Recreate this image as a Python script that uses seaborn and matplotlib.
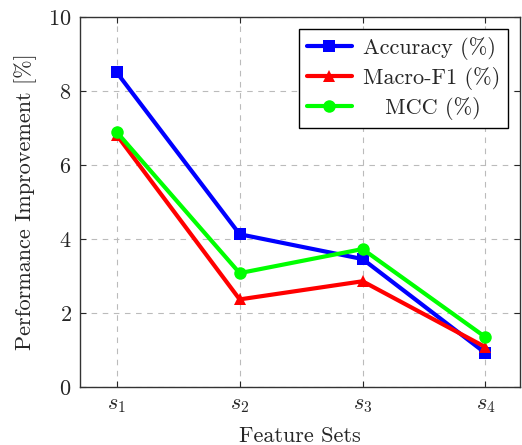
import numpy as np
import pandas as pd
import matplotlib
matplotlib.use("Agg")
import matplotlib.pyplot as plt
import seaborn as sns

feature_sets = ["$s_1$", "$s_2$", "$s_3$", "$s_4$"]
accuracy = [8.5, 4.13, 3.46, 0.92]
macro_f1 = [6.81, 2.37, 2.86, 1.08]
mcc = [6.89, 3.08, 3.73, 1.35]

sns.set_style("ticks")
plt.rcParams["font.family"] = ["cmr10", "DejaVu Serif"]
plt.rcParams["mathtext.fontset"] = "cm"
plt.rcParams["axes.unicode_minus"] = False
plt.rcParams["axes.formatter.use_mathtext"] = True

x = np.arange(1, len(feature_sets) + 1)
series = [
    ("Accuracy (%)", accuracy, "#0000ff", "s"),
    ("Macro-F1 (%)", macro_f1, "#ff0000", "^"),
    ("   MCC (%)", mcc, "#00ff00", "o"),
]

fig = plt.figure(figsize=(5.22, 4.45), dpi=100)
ax = fig.add_axes([0.153, 0.130, 0.843, 0.832])

for name, vals, color, marker in series:
    df = pd.DataFrame({"x": x, "y": vals})
    sns.lineplot(data=df, x="x", y="y", ax=ax, color=color, marker=marker,
                 markersize=9, linewidth=3, markeredgewidth=0, label=name)

ax.set_xlim(0.7, 4.28)
ax.set_ylim(0, 10)
ax.set_xticks(x)
ax.set_xticklabels(feature_sets)
ax.set_yticks([0, 2, 4, 6, 8, 10])
ax.tick_params(direction="in", length=4, width=0.8, labelsize=16, top=True, right=True, pad=6)
ax.grid(True, linestyle=(0, (5, 5)), color="#bbbbbb", linewidth=0.8)
for s in ax.spines.values():
    s.set_linewidth(1.0)
    s.set_color("#333333")

ax.set_xlabel("Feature Sets", fontsize=16, labelpad=8)
ax.set_ylabel("Performance Improvement [%]", fontsize=16, labelpad=8)

leg = ax.legend(loc="upper right", fontsize=16, frameon=True, fancybox=False,
                edgecolor="black", framealpha=1, borderpad=0.35, handlelength=2.0,
                labelspacing=0.32, handletextpad=0.5, borderaxespad=0.55)
leg.get_frame().set_linewidth(1.0)

fig.savefig("out.png", dpi=100)
